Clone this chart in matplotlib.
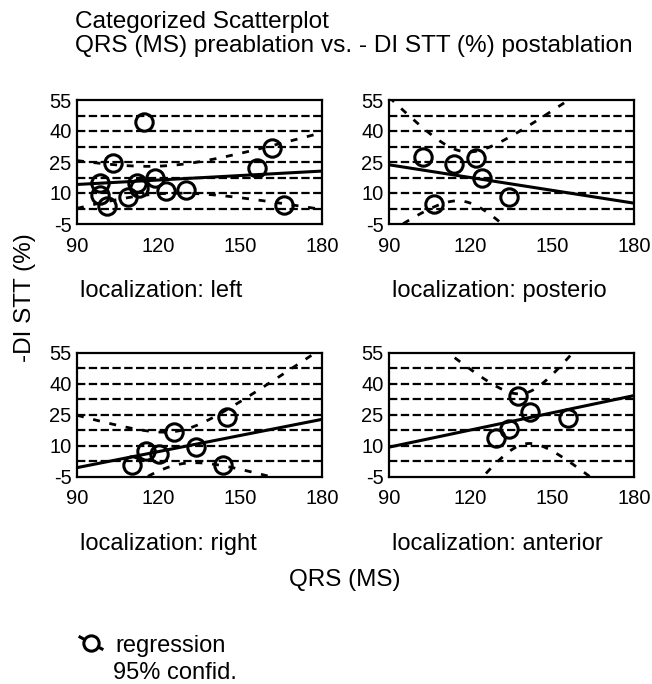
import numpy as np
import matplotlib
matplotlib.use("Agg")
import matplotlib.pyplot as plt
from matplotlib.lines import Line2D

plt.rcParams['font.family'] = ['Liberation Sans', 'DejaVu Sans']
plt.rcParams['lines.scale_dashes'] = False
plt.rcParams['axes.unicode_minus'] = False

# data
left_x = [98.6, 98.3, 101, 103.2, 108.6, 112, 112.6, 114.7, 118.8, 122.8, 130, 156, 161.6, 165.9]
left_y = [14.8, 9.1, 3.8, 24.5, 8.3, 14.8, 12.4, 44.3, 17.2, 10.75, 11.6, 22.1, 31.8, 4.3]
post_x = [102.6, 113.9, 122.1, 124.2, 106.6, 134.0]
post_y = [27.2, 24.0, 26.9, 17.5, 4.7, 7.9]
right_x = [110.1, 115.2, 120.1, 125.6, 133.7, 145.1, 143.7]
right_y = [1.0, 7.6, 6.0, 16.7, 9.3, 23.8, 0.7]
ant_x = [129.2, 134.1, 137.5, 141.8, 155.9]
ant_y = [13.7, 18.0, 34.4, 26.6, 23.4]

panels = [("localization: left", left_x, left_y),
          ("localization: posterio", post_x, post_y),
          ("localization: right", right_x, right_y),
          ("localization: anterior", ant_x, ant_y)]

x_ticks = [90, 120, 150, 180]
y_ticks = [-5, 10, 25, 40, 55]
grid_y = [2.5, 10, 17.5, 25, 32.5, 40, 47.5]

# two-sided 95% t values by degrees of freedom
t95 = {3: 3.182, 4: 2.776, 5: 2.571, 12: 2.179}

W, H = 652, 684
fig = plt.figure(figsize=(W / 100, H / 100), dpi=100)

boxes = [(77, 100), (389, 100), (77, 353), (389, 353)]
aw, ah = 245, 124


def px(x, y):
    return x / W, 1 - y / H


for (label, xs, ys), (bx, by) in zip(panels, boxes):
    ax = fig.add_axes([bx / W, 1 - (by + ah) / H, aw / W, ah / H])
    xs = np.array(xs)
    ys = np.array(ys)
    for g in grid_y:
        ax.axhline(g, color='black', lw=1.6, dashes=(6, 2.5), zorder=1)

    # least squares line with 95% confidence band of the mean
    n = len(xs)
    b, a = np.polyfit(xs, ys, 1)
    xx = np.linspace(90, 180, 200)
    yy = a + b * xx
    resid = ys - (a + b * xs)
    s = np.sqrt(np.sum(resid ** 2) / (n - 2))
    sxx = np.sum((xs - xs.mean()) ** 2)
    se = s * np.sqrt(1 / n + (xx - xs.mean()) ** 2 / sxx)
    t = t95[n - 2]
    ax.plot(xx, yy, color='black', lw=2.2, zorder=3)
    ax.plot(xx, yy + t * se, color='black', lw=2.0, dashes=(5, 7), zorder=3)
    ax.plot(xx, yy - t * se, color='black', lw=2.0, dashes=(5, 7), zorder=3)
    ax.plot(xs, ys, 'o', ms=12.5, mfc='none', mec='black', mew=2.2, zorder=4)

    ax.set_xlim(90, 180)
    ax.set_ylim(-5, 55)
    ax.set_xticks(x_ticks)
    ax.set_yticks(y_ticks)
    ax.tick_params(length=0, labelsize=14.5)
    ax.tick_params(axis='x', pad=9)
    ax.tick_params(axis='y', pad=4)
    for sp in ax.spines.values():
        sp.set_linewidth(1.6)

    fig.text(*px(bx + 3, by + ah + 73), label, fontsize=17, va='baseline', ha='left')

fig.text(*px(75, 28), "Categorized Scatterplot", fontsize=17.6, va='baseline')
fig.text(*px(75, 52), "QRS (MS) preablation vs. - DI STT (%) postablation", fontsize=17.6, va='baseline')
fig.text(*px(25, 298), "-DI STT (%)", fontsize=17.5, rotation=90, ha='center', va='center')
fig.text(*px(345, 586), "QRS (MS)", fontsize=17.5, ha='center', va='baseline')

# legend
lx, ly = px(91, 643)
fig.add_artist(Line2D([lx - 11 / W, lx + 11 / W], [ly + 6 / H, ly - 6 / H], color='black', lw=2.2,
                      transform=fig.transFigure))
fig.add_artist(Line2D([lx], [ly], marker='o', ms=11, mfc='white', mec='black', mew=2.2,
                      transform=fig.transFigure))
fig.text(*px(115, 652), "regression", fontsize=17, va='baseline')
fig.text(*px(113, 679), "95% confid.", fontsize=17, va='baseline')

fig.savefig("out.png", dpi=100)
